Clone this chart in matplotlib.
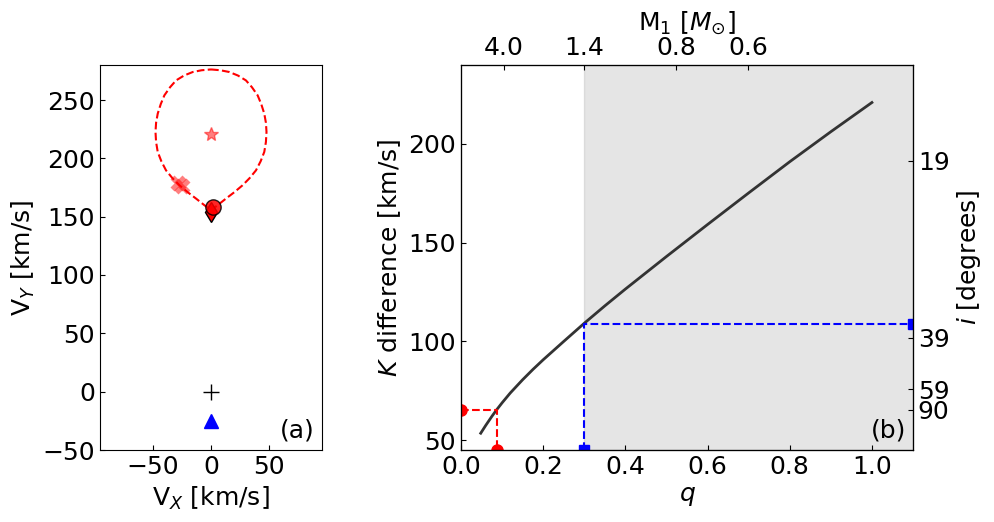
import matplotlib
matplotlib.use('Agg')
import matplotlib.pyplot as plt

# ---- panel (a): velocity plane ----
# right half of the lobe, top to tip; mirrored for the left half
half_vx = [0, 8, 15.6, 23, 29.9, 35, 39.9, 43, 45.6, 47, 47.5,
           47, 45.6, 42.5, 38.5, 33, 27, 20, 12.8, 6.5, 0]
half_vy = [276.2, 275.5, 274, 271, 266.8, 261, 254, 246.5, 238.3, 230.5, 222.6,
           214, 205.5, 197.5, 189.7, 183, 176.9, 171, 165.5, 160.5, 155.5]
lobe_vx = half_vx + [-v for v in half_vx[::-1]]
lobe_vy = half_vy + half_vy[::-1]

star_v = (0, 221)
cross_vx = [-28, -25]
cross_vy = [179, 176]
circle_v = (2, 158)
diamond_v = (0, 154)
plus_v = (0, 0)
triangle_v = (0, -25)

# ---- panel (b): K difference vs q ----
q_vals = [0.048, 0.06, 0.075, 0.0865, 0.10, 0.12, 0.15, 0.175, 0.20, 0.25,
          0.30, 0.35, 0.40, 0.50, 0.60, 0.70, 0.80, 0.90, 1.00]
k_diff = [53.5, 57.4, 62.0, 65.3, 68.9, 73.9, 80.6, 85.8, 90.7, 100.0,
          109.2, 118.0, 126.5, 143.0, 159.2, 175.2, 191.0, 206.2, 221.0]
q_red, k_red = 0.0865, 65.3
q_blue, k_blue = 0.30, 108.9

m1_labels = ['4.0', '1.4', '0.8', '0.6']
m1_q = [0.104, 0.30, 0.523, 0.699]
inc_labels = ['19', '39', '59', '90']
inc_k = [191.4, 101.9, 75.8, 65.3]

plt.rcParams['font.size'] = 18
plt.rcParams['xtick.direction'] = 'in'
plt.rcParams['ytick.direction'] = 'in'

fig = plt.figure(figsize=(9.94, 5.22), dpi=100)
ax1 = fig.add_axes([100/994, 72/522, 222/994, 385/522])
ax2 = fig.add_axes([461/994, 72/522, 452/994, 385/522])

# (a)
ax1.plot(lobe_vx, lobe_vy, 'r--', lw=1.5)
ax1.plot(*star_v, marker='*', color='red', alpha=0.5, ms=10, ls='none')
ax1.plot(cross_vx, cross_vy, marker='X', color='red', alpha=0.5, ms=12,
         ls='none', mec='none')
ax1.plot(*diamond_v, marker='d', color='red', mec='k', ms=10, ls='none')
ax1.plot(*circle_v, marker='o', color='red', mec='k', ms=11, ls='none',
         alpha=0.85)
ax1.plot(*plus_v, marker='+', color='k', ms=11, ls='none')
ax1.plot(*triangle_v, marker='^', color='blue', ms=10, ls='none')
ax1.set_xlim(-95, 95)
ax1.set_ylim(-50, 280)
ax1.set_xticks([-50, 0, 50])
ax1.set_yticks([-50, 0, 50, 100, 150, 200, 250])
ax1.set_xlabel('V$_X$ [km/s]')
ax1.set_ylabel('V$_Y$ [km/s]')
ax1.text(0.965, 0.02, '(a)', transform=ax1.transAxes, ha='right', va='bottom')

# (b)
ax2.axvspan(0.3, 1.1, color='grey', alpha=0.2)
ax2.plot(q_vals, k_diff, color='#333333', lw=2)
ax2.plot([0, q_red, q_red], [k_red, k_red, 45], 'r--', lw=1.5)
ax2.plot([0, q_red], [k_red, 45], 'ro', ls='none', ms=8)
ax2.plot([q_blue, q_blue, 1.1], [45, k_blue, k_blue], 'b--', lw=1.5)
ax2.plot([q_blue, 1.1], [45, k_blue], 'bs', ls='none', ms=7)
ax2.set_xlim(0, 1.1)
ax2.set_ylim(45, 240)
ax2.set_xticks([0.0, 0.2, 0.4, 0.6, 0.8, 1.0])
ax2.set_yticks([50, 100, 150, 200])
ax2.set_xlabel('$q$')
ax2.set_ylabel('$K$ difference [km/s]')
ax2.text(0.985, 0.02, '(b)', transform=ax2.transAxes, ha='right', va='bottom')

top = ax2.twiny()
top.set_xlim(ax2.get_xlim())
top.set_xticks(m1_q)
top.set_xticklabels(m1_labels)
top.set_xlabel(r'M$_1$ [$M_{\odot}$]')

right = ax2.twinx()
right.set_ylim(ax2.get_ylim())
right.set_yticks(inc_k)
right.set_yticklabels(inc_labels)
right.set_ylabel('$i$ [degrees]')

fig.savefig('out.png', dpi=100)
